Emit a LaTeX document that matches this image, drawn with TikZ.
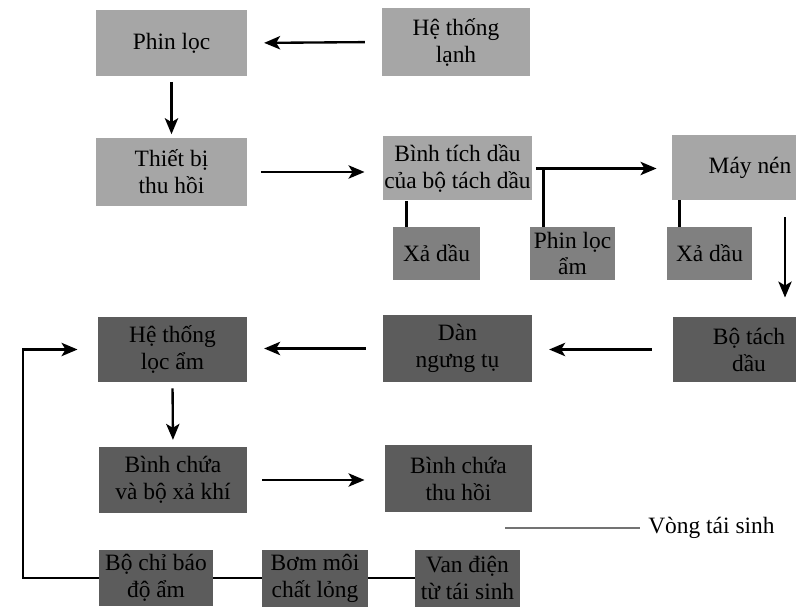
\documentclass[tikz,border=0pt]{standalone}
\usepackage{fontspec}
\setmainfont{Liberation Serif}
\usetikzlibrary{arrows.meta}
\tikzset{
  lightBox/.style={rectangle, fill=black!35, align=center, inner sep=0pt},
  midBox/.style={rectangle, fill=black!50, align=center, inner sep=0pt},
  darkBox/.style={rectangle, fill=black!64, align=center, inner sep=0pt},
  flowArrow/.style={-{Stealth[length=2.4mm,width=2mm,inset=0.6mm]}, line width=1pt,
    shorten <=2.5mm, shorten >=2.5mm},
  plainLine/.style={line width=1pt},
  legendLine/.style={line width=0.6pt, black!55}
}

\begin{document}
\begin{tikzpicture}[x=0.15mm, y=0.15mm, font={\fontsize{10}{11.5}\selectfont}]
  \clip (0,0) rectangle (796,612);
  % upper part: refrigeration side
  \node [lightBox, minimum width=22.65mm, minimum height=9.9mm] (filt) at (171.5,569) {Phin lọc};
  \node [lightBox, minimum width=22.2mm, minimum height=10.2mm] (cool) at (456,570) {Hệ thống\\lạnh};
  \node [lightBox, minimum width=22.65mm, minimum height=10.2mm] (recov) at (171.5,440) {Thiết bị\\thu hồi};
  \node [lightBox, minimum width=22.35mm, minimum height=9.6mm] (acc) at (457.5,443.5) {Bình tích dầu\\của bộ tách dầu};
  \node [lightBox, minimum width=23.4mm, minimum height=9.75mm] (comp) at (750,444.5) {Máy nén};
  \node [midBox, minimum width=13.05mm, minimum height=7.95mm] (drain1) at (436.5,358.5) {Xả dầu};
  \node [midBox, minimum width=12.75mm, minimum height=7.95mm] (wfilt) at (572.5,358.5) {Phin lọc\\ẩm};
  \node [midBox, minimum width=12.75mm, minimum height=7.95mm] (drain2) at (709.5,358.5) {Xả dầu};
  % lower part: recovery loop
  \node [darkBox, minimum width=22.8mm, minimum height=9.75mm] (sep) at (749,262.5) {Bộ tách\\dầu};
  \node [darkBox, minimum width=22.35mm, minimum height=10.05mm] (cond) at (457.5,263.5) {Dàn\\ngưng tụ};
  \node [darkBox, minimum width=22.35mm, minimum height=9.75mm] (dry) at (172.5,262.5) {Hệ thống\\lọc ẩm};
  \node [darkBox, minimum width=22.2mm, minimum height=9.9mm] (recv) at (173,132) {Bình chứa\\và bộ xả khí};
  \node [darkBox, minimum width=22.05mm, minimum height=10.05mm] (rtank) at (458.5,133.5) {Bình chứa\\thu hồi};
  \node [darkBox, minimum width=17.1mm, minimum height=8.4mm] (ind) at (156,34) {Bộ chỉ báo\\độ ẩm};
  \node [darkBox, minimum width=15.9mm, minimum height=8.55mm] (pump) at (315,34) {Bơm môi\\chất lỏng};
  \node [darkBox, minimum width=15.75mm, minimum height=8.55mm] (valve) at (467.5,34) {Van điện\\từ tái sinh};
  \node [anchor=west] (legend) at (640,84) {Vòng tái sinh};

  \coordinate (tap) at ([xshift=1.65mm]acc.east);
  \coordinate (d1) at ([xshift=2.1mm]drain1.north west);
  \coordinate (d2) at ([xshift=1.95mm]drain2.north west);
  \coordinate (rail) at (785,0);
  \coordinate (loopX) at (23,0);
  \coordinate (keyStart) at (505,84);

  \draw [flowArrow] (cool.west) -- (filt.east);
  \draw [flowArrow, shorten <=0.8mm, shorten >=0.5mm] (filt.south) -- (recov.north);
  \draw [flowArrow, shorten <=2mm, shorten >=2.7mm] (recov.east) -- (recov.east -| acc.west);
  \draw [flowArrow, shorten <=0.6mm, shorten >=2.25mm] (acc.east) -- (acc.east -| comp.west);
  \draw [plainLine] (tap) -- (tap |- wfilt.north);
  \draw [plainLine] (d1) -- (d1 |- acc.south);
  \draw [plainLine] (d2) -- (d2 |- comp.south);
  \draw [flowArrow, shorten >=2.85mm] (comp.south -| rail) -- (sep.north -| rail);
  \draw [flowArrow, shorten <=3.1mm] (sep.west) -- (sep.west -| cond.east);
  \draw [flowArrow] (cond.west) -- (cond.west -| dry.east);
  \draw [flowArrow, shorten <=0.9mm, shorten >=1mm] (dry.south) -- (recv.north);
  \draw [flowArrow, shorten <=2.25mm, shorten >=3mm] (recv.east) -- (recv.east -| rtank.west);
  \draw [plainLine] (valve.west) -- (pump.east);
  \draw [plainLine] (pump.west) -- (ind.east);
  \draw [flowArrow, shorten <=0pt, shorten >=3mm] (ind.west) -- (ind.west -| loopX) |- (dry.west);
  \draw [legendLine] (keyStart) -- (legend.west);
\end{tikzpicture}
\end{document}
